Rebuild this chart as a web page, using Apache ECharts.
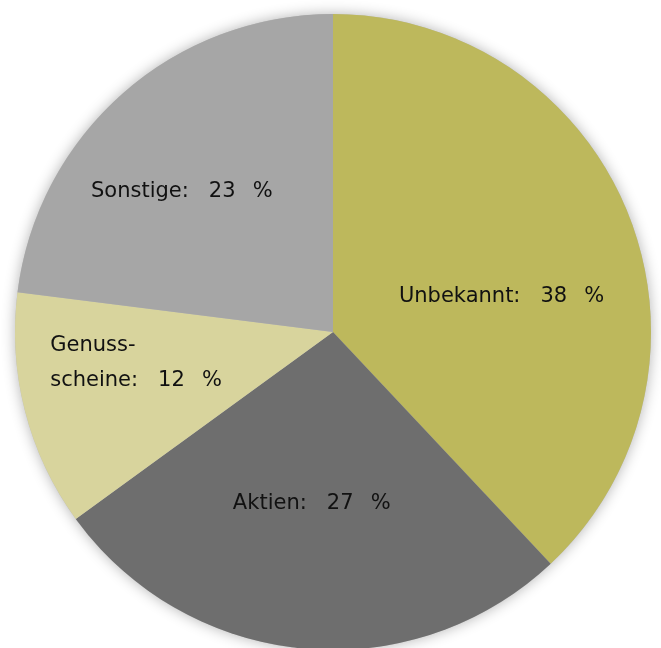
<!DOCTYPE html>
<html>
<head>
<meta charset="utf-8">
<script src="https://cdn.jsdelivr.net/npm/echarts@6/dist/echarts.min.js"></script>
<style>
html,body{margin:0;padding:0;background:#fff;}
#chart{width:661px;height:648px;}
</style>
</head>
<body>
<div id="chart"></div>
<script>
const categories = ["Unbekannt", "Aktien", "Genuss-\nscheine", "Sonstige"];
const values = [38, 27, 12, 23];
const colors = ["#BDB85C", "#6E6E6E", "#D8D49D", "#A6A6A6"];
const labelOffsets = [[18, 24], [-6, 10], [-40, -9], [-44, -19]];

const chart = echarts.init(document.getElementById('chart'), null, {renderer: 'canvas'});
const data = categories.map((c, i) => ({
  name: c,
  value: values[i],
  itemStyle: {color: colors[i]},
  label: {offset: labelOffsets[i]}
}));

const textStyle = {fontFamily: 'DejaVu Sans', fontSize: 21, lineHeight: 35, color: '#111111', align: 'left'};

chart.setOption({
  animation: false,
  backgroundColor: '#ffffff',
  series: [
    {
      type: 'pie',
      silent: true,
      center: [333, 332],
      radius: 318,
      z: 1,
      label: {show: false},
      labelLine: {show: false},
      data: [{value: 1, itemStyle: {color: '#bbbbbb', shadowBlur: 14, shadowColor: 'rgba(0,0,0,0.3)'}}]
    },
    {
      type: 'pie',
      center: [333, 332],
      radius: 318,
      startAngle: 90,
      clockwise: true,
      z: 2,
      itemStyle: {borderWidth: 0},
      label: {
        show: true,
        position: 'inside',
        fontFamily: 'DejaVu Sans',
        fontSize: 21,
        lineHeight: 35,
        color: '#111111',
        formatter: p => {
          const text = p.name + ':   ' + p.value + ' \u2002%';
          return text.split('\n').map(line => '{l|' + line + '}').join('\n');
        },
        rich: {l: textStyle}
      },
      labelLine: {show: false},
      emphasis: {disabled: true},
      data: data
    }
  ]
});
</script>
</body>
</html>
